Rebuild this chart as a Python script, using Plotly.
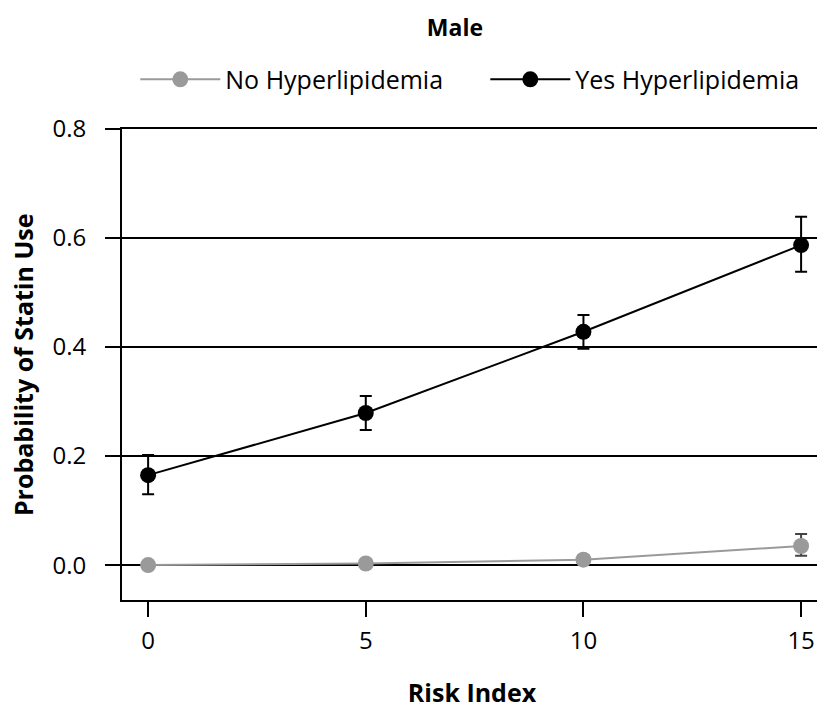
import plotly.graph_objects as go

risk = [0, 5, 10, 15]
no_val = [0.0, 0.003, 0.010, 0.035]
no_hi = [0.002, 0.006, 0.018, 0.057]
no_lo = [0.0, 0.0, 0.004, 0.017]
yes_val = [0.165, 0.279, 0.428, 0.587]
yes_hi = [0.202, 0.310, 0.459, 0.639]
yes_lo = [0.130, 0.248, 0.397, 0.538]

def errs(v, hi, lo):
    return [h - x for h, x in zip(hi, v)], [x - l for x, l in zip(v, lo)]

fig = go.Figure()
for name, v, hi, lo, col, ecol, lg in [
    ("No Hyperlipidemia", no_val, no_hi, no_lo, "#9a9a9a", "#444444", "legend"),
    ("Yes Hyperlipidemia", yes_val, yes_hi, yes_lo, "#000000", "#000000", "legend2"),
]:
    up, dn = errs(v, hi, lo)
    fig.add_trace(go.Scatter(
        x=risk, y=v, name=name, mode="lines+markers", legend=lg,
        line=dict(color=col, width=2),
        marker=dict(color=col, size=16),
        error_y=dict(type="data", symmetric=False, array=up, arrayminus=dn,
                     color=ecol, thickness=2, width=6),
    ))

FONT = "Open Sans"
leg_common = dict(orientation="h", xanchor="left", y=1.105, yanchor="middle",
                  font=dict(size=25), itemwidth=80, bgcolor="rgba(0,0,0,0)")
fig.update_layout(
    width=817, height=701,
    paper_bgcolor="white", plot_bgcolor="white",
    margin=dict(l=114, r=3, t=121, b=109, autoexpand=False),
    font=dict(family=FONT, size=23, color="#000000"),
    title=dict(text="<b>Male</b>", x=0.547, xanchor="center", y=0.972, yanchor="middle",
               font=dict(size=23)),
    legend=dict(x=0.019, **leg_common),
    legend2=dict(x=0.519, **leg_common),
    showlegend=True,
    annotations=[dict(text="<b>Probability of Statin Use</b>", xref="paper", yref="paper",
                      x=-0.142, y=0.5, xanchor="center", yanchor="middle",
                      textangle=-90, showarrow=False, font=dict(size=25))],
)
fig.update_xaxes(
    range=[-0.6, 15.48], tickvals=risk, ticks="outside", ticklen=15, tickwidth=2,
    tickcolor="black", showline=True, linecolor="black", linewidth=2, mirror=True,
    showgrid=False, zeroline=False, automargin=False, tickfont=dict(size=24),
    ticklabelstandoff=3,
    title=dict(text="<b>Risk Index</b>", font=dict(size=25), standoff=35),
)
fig.update_yaxes(
    range=[-0.064, 0.8], tickvals=[0.0, 0.2, 0.4, 0.6, 0.8],
    ticktext=["0.0", "0.2", "0.4", "0.6", "0.8"],
    ticks="outside", ticklen=15, tickwidth=2, tickcolor="black",
    showline=True, linecolor="black", linewidth=2, mirror=True,
    showgrid=True, gridcolor="black", gridwidth=2, zeroline=False,
    automargin=False, tickfont=dict(size=24), ticklabelstandoff=14,
)

fig.write_html("out.html")
